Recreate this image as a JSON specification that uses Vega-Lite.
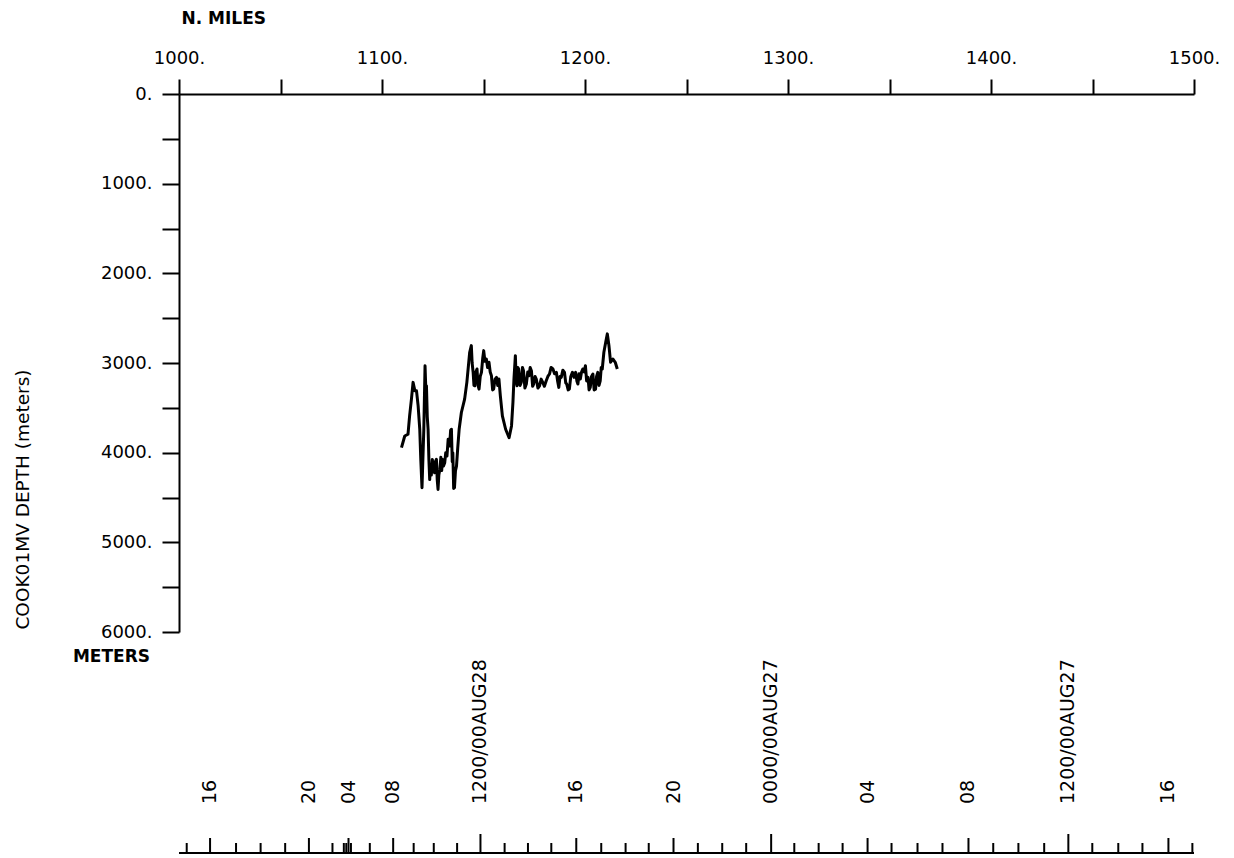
{
  "$schema": "https://vega.github.io/schema/vega-lite/v6.json",
  "width": 1015,
  "height": 759,
  "autosize": {"type": "none"},
  "padding": {"left": 179, "top": 94, "right": 40, "bottom": 5},
  "background": "white",
  "config": {
    "view": {"stroke": null},
    "font": "DejaVu Sans",
    "axis": {"grid": false, "domainColor": "black", "tickColor": "black", "labelColor": "black", "titleColor": "black", "domainWidth": 2, "tickWidth": 2}
  },
  "datasets": {
    "depth": [
      {"mile": 1109.6, "depth": 3944}, {"mile": 1111.2, "depth": 3814}, {"mile": 1112.8, "depth": 3795},
      {"mile": 1113.6, "depth": 3590}, {"mile": 1114.5, "depth": 3403}, {"mile": 1115.3, "depth": 3216},
      {"mile": 1116.2, "depth": 3310}, {"mile": 1117.0, "depth": 3310}, {"mile": 1117.8, "depth": 3478},
      {"mile": 1118.6, "depth": 3739}, {"mile": 1119.1, "depth": 4075}, {"mile": 1119.7, "depth": 4391},
      {"mile": 1120.6, "depth": 3739}, {"mile": 1121.2, "depth": 3030}, {"mile": 1121.6, "depth": 3300},
      {"mile": 1121.9, "depth": 3254}, {"mile": 1122.3, "depth": 3600}, {"mile": 1122.7, "depth": 3739},
      {"mile": 1123.1, "depth": 4075}, {"mile": 1123.5, "depth": 4300}, {"mile": 1123.8, "depth": 4150},
      {"mile": 1124.3, "depth": 4250}, {"mile": 1124.8, "depth": 4075}, {"mile": 1125.3, "depth": 4200},
      {"mile": 1125.9, "depth": 4224}, {"mile": 1126.3, "depth": 4100}, {"mile": 1126.8, "depth": 4075},
      {"mile": 1127.2, "depth": 4300}, {"mile": 1127.6, "depth": 4410}, {"mile": 1128.0, "depth": 4250},
      {"mile": 1128.5, "depth": 4187}, {"mile": 1129.0, "depth": 4050}, {"mile": 1129.4, "depth": 4200},
      {"mile": 1129.8, "depth": 4075}, {"mile": 1130.3, "depth": 4150}, {"mile": 1130.9, "depth": 4112},
      {"mile": 1131.4, "depth": 4000}, {"mile": 1132.0, "depth": 4038}, {"mile": 1132.6, "depth": 3850},
      {"mile": 1133.3, "depth": 3926}, {"mile": 1133.8, "depth": 3750}, {"mile": 1134.2, "depth": 3739},
      {"mile": 1134.6, "depth": 4100}, {"mile": 1134.9, "depth": 4000}, {"mile": 1135.3, "depth": 4400},
      {"mile": 1135.7, "depth": 4391}, {"mile": 1136.2, "depth": 4200}, {"mile": 1136.7, "depth": 4150},
      {"mile": 1137.3, "depth": 3950}, {"mile": 1138.0, "depth": 3739}, {"mile": 1139.1, "depth": 3552},
      {"mile": 1140.7, "depth": 3403}, {"mile": 1141.8, "depth": 3216}, {"mile": 1143.2, "depth": 2880},
      {"mile": 1144.0, "depth": 2806}, {"mile": 1144.4, "depth": 3000}, {"mile": 1144.9, "depth": 3104},
      {"mile": 1145.3, "depth": 3250}, {"mile": 1145.7, "depth": 3254}, {"mile": 1146.2, "depth": 3100},
      {"mile": 1146.8, "depth": 3067}, {"mile": 1147.3, "depth": 3250}, {"mile": 1147.8, "depth": 3291},
      {"mile": 1148.4, "depth": 3150}, {"mile": 1149.0, "depth": 3104}, {"mile": 1149.6, "depth": 2950},
      {"mile": 1150.1, "depth": 2862}, {"mile": 1150.7, "depth": 2980}, {"mile": 1151.4, "depth": 2955},
      {"mile": 1152.0, "depth": 3050}, {"mile": 1152.7, "depth": 2992}, {"mile": 1153.3, "depth": 3100},
      {"mile": 1153.9, "depth": 3142}, {"mile": 1154.5, "depth": 3300}, {"mile": 1155.0, "depth": 3291},
      {"mile": 1155.7, "depth": 3180}, {"mile": 1156.4, "depth": 3160}, {"mile": 1157.0, "depth": 3250},
      {"mile": 1157.6, "depth": 3179}, {"mile": 1158.3, "depth": 3366}, {"mile": 1159.3, "depth": 3590},
      {"mile": 1160.9, "depth": 3739}, {"mile": 1162.6, "depth": 3832}, {"mile": 1163.8, "depth": 3702},
      {"mile": 1164.5, "depth": 3440}, {"mile": 1165.0, "depth": 3179}, {"mile": 1165.7, "depth": 2918},
      {"mile": 1166.1, "depth": 3200}, {"mile": 1166.5, "depth": 3254}, {"mile": 1166.9, "depth": 3050},
      {"mile": 1167.3, "depth": 3067}, {"mile": 1168.0, "depth": 3250}, {"mile": 1168.6, "depth": 3216},
      {"mile": 1169.2, "depth": 3050}, {"mile": 1169.7, "depth": 3086}, {"mile": 1170.4, "depth": 3280},
      {"mile": 1171.1, "depth": 3235}, {"mile": 1171.8, "depth": 3100}, {"mile": 1172.4, "depth": 3142},
      {"mile": 1173.0, "depth": 3050}, {"mile": 1173.6, "depth": 3086}, {"mile": 1174.2, "depth": 3260},
      {"mile": 1174.7, "depth": 3235}, {"mile": 1175.4, "depth": 3150}, {"mile": 1176.0, "depth": 3179},
      {"mile": 1176.8, "depth": 3280}, {"mile": 1177.6, "depth": 3254}, {"mile": 1178.4, "depth": 3180},
      {"mile": 1179.2, "depth": 3216}, {"mile": 1180.0, "depth": 3260}, {"mile": 1180.9, "depth": 3198},
      {"mile": 1181.7, "depth": 3150}, {"mile": 1182.5, "depth": 3123}, {"mile": 1183.3, "depth": 3050},
      {"mile": 1184.2, "depth": 3067}, {"mile": 1185.0, "depth": 3120}, {"mile": 1185.9, "depth": 3104},
      {"mile": 1186.5, "depth": 3200}, {"mile": 1187.1, "depth": 3272}, {"mile": 1187.7, "depth": 3150},
      {"mile": 1188.3, "depth": 3160}, {"mile": 1189.1, "depth": 3080}, {"mile": 1189.9, "depth": 3104},
      {"mile": 1190.5, "depth": 3220}, {"mile": 1191.0, "depth": 3235}, {"mile": 1191.7, "depth": 3300},
      {"mile": 1192.3, "depth": 3291}, {"mile": 1193.0, "depth": 3150}, {"mile": 1193.8, "depth": 3104},
      {"mile": 1194.6, "depth": 3160}, {"mile": 1195.4, "depth": 3104}, {"mile": 1196.0, "depth": 3200},
      {"mile": 1196.5, "depth": 3235}, {"mile": 1197.1, "depth": 3120}, {"mile": 1197.7, "depth": 3179},
      {"mile": 1198.3, "depth": 3100}, {"mile": 1198.9, "depth": 3067}, {"mile": 1199.6, "depth": 3100},
      {"mile": 1200.2, "depth": 3030}, {"mile": 1200.8, "depth": 3200}, {"mile": 1201.5, "depth": 3160},
      {"mile": 1202.0, "depth": 3300}, {"mile": 1202.6, "depth": 3272}, {"mile": 1203.2, "depth": 3150},
      {"mile": 1203.9, "depth": 3123}, {"mile": 1204.5, "depth": 3300}, {"mile": 1205.2, "depth": 3291},
      {"mile": 1205.7, "depth": 3150}, {"mile": 1206.3, "depth": 3104}, {"mile": 1206.9, "depth": 3250},
      {"mile": 1207.5, "depth": 3198}, {"mile": 1208.0, "depth": 3050}, {"mile": 1208.5, "depth": 3067},
      {"mile": 1209.3, "depth": 2880}, {"mile": 1210.2, "depth": 2768}, {"mile": 1211.0, "depth": 2675},
      {"mile": 1211.8, "depth": 2806}, {"mile": 1212.6, "depth": 2992}, {"mile": 1213.7, "depth": 2955},
      {"mile": 1214.9, "depth": 2992}, {"mile": 1215.9, "depth": 3067}
    ],
    "timeticks": [
      {"mile": 1003.8, "kind": "minor"},
      {"mile": 1015.3, "kind": "major", "label": "16"},
      {"mile": 1028.1, "kind": "minor"},
      {"mile": 1040.2, "kind": "minor"},
      {"mile": 1052.3, "kind": "minor"},
      {"mile": 1064.0, "kind": "major", "label": "20"},
      {"mile": 1075.6, "kind": "minor"},
      {"mile": 1081.2, "kind": "minor"},
      {"mile": 1082.4, "kind": "minor"},
      {"mile": 1083.5, "kind": "major", "label": "04"},
      {"mile": 1084.7, "kind": "minor"},
      {"mile": 1094.0, "kind": "minor"},
      {"mile": 1105.5, "kind": "major", "label": "08"},
      {"mile": 1115.6, "kind": "minor"},
      {"mile": 1125.5, "kind": "minor"},
      {"mile": 1137.0, "kind": "minor"},
      {"mile": 1148.5, "kind": "noon", "label": "1200/00AUG28"},
      {"mile": 1160.4, "kind": "minor"},
      {"mile": 1171.9, "kind": "minor"},
      {"mile": 1183.4, "kind": "minor"},
      {"mile": 1195.7, "kind": "major", "label": "16"},
      {"mile": 1208.0, "kind": "minor"},
      {"mile": 1220.0, "kind": "minor"},
      {"mile": 1231.4, "kind": "minor"},
      {"mile": 1243.6, "kind": "major", "label": "20"},
      {"mile": 1255.6, "kind": "minor"},
      {"mile": 1267.6, "kind": "minor"},
      {"mile": 1279.4, "kind": "minor"},
      {"mile": 1291.7, "kind": "noon", "label": "0000/00AUG27"},
      {"mile": 1303.1, "kind": "minor"},
      {"mile": 1315.1, "kind": "minor"},
      {"mile": 1326.9, "kind": "minor"},
      {"mile": 1339.2, "kind": "major", "label": "04"},
      {"mile": 1351.0, "kind": "minor"},
      {"mile": 1363.8, "kind": "minor"},
      {"mile": 1376.1, "kind": "minor"},
      {"mile": 1388.9, "kind": "major", "label": "08"},
      {"mile": 1401.1, "kind": "minor"},
      {"mile": 1413.5, "kind": "minor"},
      {"mile": 1426.2, "kind": "minor"},
      {"mile": 1438.1, "kind": "noon", "label": "1200/00AUG27"},
      {"mile": 1449.9, "kind": "minor"},
      {"mile": 1462.7, "kind": "minor"},
      {"mile": 1474.6, "kind": "minor"},
      {"mile": 1487.4, "kind": "major", "label": "16"},
      {"mile": 1499.2, "kind": "minor"}
    ]
  },
  "layer": [
    {
      "layer": [
        {
          "data": {"name": "depth"},
          "mark": {"type": "line", "color": "black", "strokeWidth": 3, "strokeJoin": "round"},
          "encoding": {
            "x": {
              "field": "mile", "type": "quantitative",
              "scale": {"domain": [1000, 1500], "nice": false, "zero": false},
              "axis": {
                "orient": "top",
                "values": [1000, 1050, 1100, 1150, 1200, 1250, 1300, 1350, 1400, 1450, 1500],
                "labelExpr": "datum.value % 100 == 0 ? datum.value + '.' : ''",
                "labelFlush": false, "labelOverlap": false,
                "tickSize": 15, "labelPadding": 12, "labelFontSize": 18, "labelFont": "DejaVu Sans",
                "title": "N. MILES", "titleFontSize": 17, "titleFontWeight": "bold", "titleFont": "DejaVu Sans",
                "titleAnchor": "start", "titleAlign": "left", "titleBaseline": "middle",
                "titleX": 2, "titleY": -76
              }
            },
            "y": {
              "field": "depth", "type": "quantitative",
              "scale": {"domain": [0, 6000], "range": [0, 538], "nice": false, "zero": false},
              "axis": {
                "orient": "left",
                "values": [0, 500, 1000, 1500, 2000, 2500, 3000, 3500, 4000, 4500, 5000, 5500, 6000],
                "labelExpr": "datum.value % 1000 == 0 ? datum.value + '.' : ''",
                "labelOverlap": false,
                "tickSize": 17, "labelPadding": 10, "labelFontSize": 18, "labelFont": "DejaVu Sans",
                "title": "COOK01MV DEPTH (meters)", "titleFontSize": 18.5, "titleFontWeight": "normal", "titleFont": "DejaVu Sans",
                "titleAngle": 270, "titleAlign": "center", "titleBaseline": "middle",
                "titleX": -157, "titleY": 405
              }
            }
          }
        },
        {
          "data": {"values": [{"unit": "METERS"}]},
          "mark": {"type": "text", "align": "right", "baseline": "middle", "dx": -29, "dy": 25, "fontSize": 17, "fontWeight": "bold", "font": "DejaVu Sans", "color": "black"},
          "encoding": {
            "x": {"datum": 1000, "type": "quantitative", "scale": {"domain": [1000, 1500], "nice": false, "zero": false}},
            "y": {"datum": 6000, "type": "quantitative"},
            "text": {"field": "unit"}
          }
        }
      ]
    },
    {
      "layer": [
        {
          "data": {"name": "timeticks"},
          "transform": [{"filter": "datum.kind == 'minor'"}],
          "mark": {"type": "rule", "color": "black", "strokeWidth": 2},
          "encoding": {
            "x": {"field": "mile", "type": "quantitative", "scale": {"domain": [1000, 1500], "nice": false, "zero": false}},
            "y": {"datum": 0, "type": "quantitative", "scale": {"domain": [0, 759], "nice": false, "zero": false}, "axis": null},
            "y2": {"datum": 10}
          }
        },
        {
          "data": {"name": "timeticks"},
          "transform": [{"filter": "datum.kind == 'major'"}],
          "mark": {"type": "rule", "color": "black", "strokeWidth": 2},
          "encoding": {
            "x": {"field": "mile", "type": "quantitative", "scale": {"domain": [1000, 1500], "nice": false, "zero": false}},
            "y": {"datum": 0, "type": "quantitative", "axis": null},
            "y2": {"datum": 15}
          }
        },
        {
          "data": {"name": "timeticks"},
          "transform": [{"filter": "datum.kind == 'noon'"}],
          "mark": {"type": "rule", "color": "black", "strokeWidth": 2},
          "encoding": {
            "x": {"field": "mile", "type": "quantitative", "scale": {"domain": [1000, 1500], "nice": false, "zero": false}},
            "y": {"datum": 0, "type": "quantitative", "axis": null},
            "y2": {"datum": 19}
          }
        },
        {
          "data": {"name": "timeticks"},
          "transform": [{"filter": "isValid(datum.label)"}],
          "mark": {"type": "text", "angle": 270, "align": "left", "baseline": "middle", "fontSize": 19, "font": "DejaVu Sans", "color": "black"},
          "encoding": {
            "x": {"field": "mile", "type": "quantitative", "scale": {"domain": [1000, 1500], "nice": false, "zero": false}},
            "y": {"datum": 49, "type": "quantitative", "axis": null},
            "text": {"field": "label"}
          }
        },
        {
          "data": {"values": [{"axis": "time"}]},
          "mark": {"type": "rule", "color": "black", "strokeWidth": 2},
          "encoding": {
            "x": {"datum": 1000, "type": "quantitative", "scale": {"domain": [1000, 1500], "nice": false, "zero": false}},
            "x2": {"datum": 1500},
            "y": {"datum": 0, "type": "quantitative", "axis": null}
          }
        }
      ]
    }
  ],
  "resolve": {"scale": {"y": "independent"}}
}
